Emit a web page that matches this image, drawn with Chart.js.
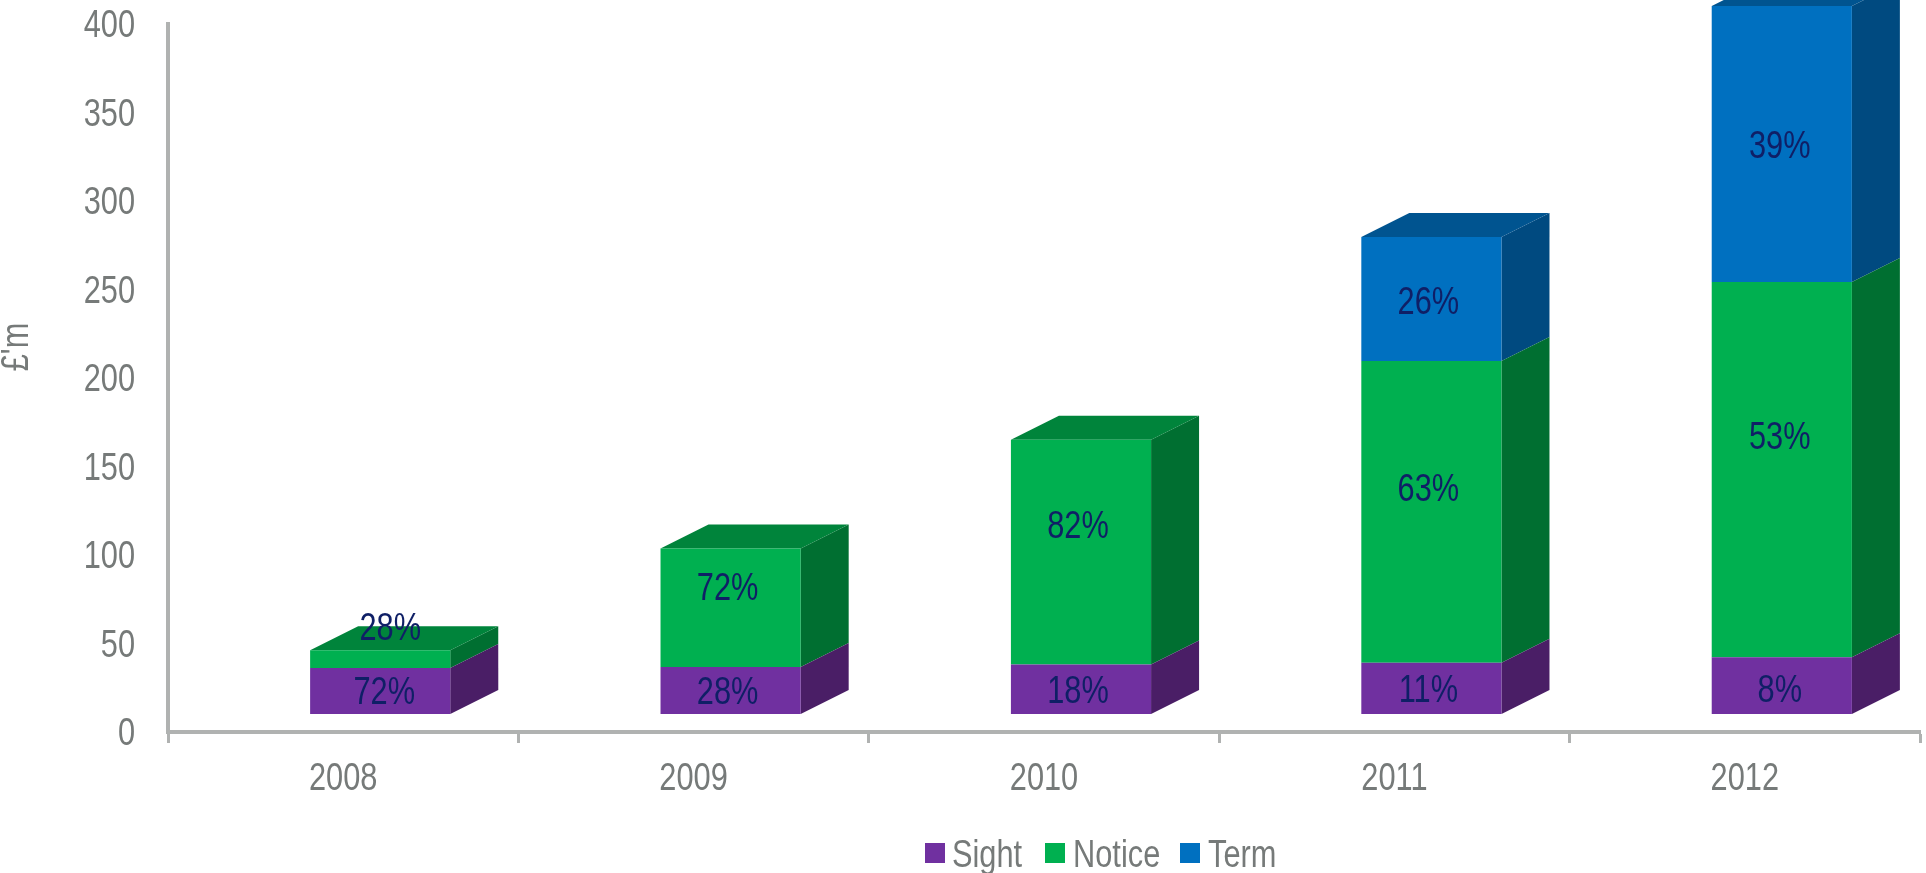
<!DOCTYPE html>
<html lang="en">
<head>
<meta charset="UTF-8">
<title>Deposits by type</title>
<script src="https://cdn.jsdelivr.net/npm/chart.js"></script>
<style>
    html, body { margin: 0; padding: 0; background: #fff; }
    canvas { display: block; }
</style>
</head>
<body>
<canvas id="depositChart" width="1926" height="873"></canvas>
<script>
    // data
    const years = ['2008', '2009', '2010', '2011', '2012'];
    const yTicks = [0, 50, 100, 150, 200, 250, 300, 350, 400];
    const sight = [26, 26.5, 28, 29, 32];
    const notice = [10, 67, 127, 170.5, 212];
    const term = [0, 0, 0, 70, 156];
    const sightPct = ['72%', '28%', '18%', '11%', '8%'];
    const noticePct = ['28%', '72%', '82%', '63%', '53%'];
    const termPct = ['', '', '', '26%', '39%'];
    const seriesNames = ['Sight', 'Notice', 'Term'];
    const yTitle = "£'m";

    const FONT = '"Liberation Sans", sans-serif';
    const FONT_SIZE = 38;
    const SQUEEZE = 0.81;  // source text is stretched narrow
    const GREY = '#767a79';
    const AXIS = '#b0b2b1';
    const LABEL = '#0f1f66';

    // fake 3D look
    const SHIFT_X = 37, SHIFT_Y = -18;  // front face sits off the axis
    const DEPTH_X = 48, DEPTH_Y = -24;
    const faces = [
        { front: '#7030a0', side: '#4a1e66', top: '#5a2680' },
        { front: '#00b050', side: '#006f31', top: '#00843b' },
        { front: '#0070c0', side: '#004a80', top: '#005490' }
    ];
    const pctLabels = [sightPct, noticePct, termPct];
    // label nudges (px) for the notice labels, they are not centred in the source
    const labelNudgeY = [
        [3, 3, 3, 3, 6],
        [-30, -18, -25, -21, -31],
        [0, 0, 0, 5, 3]
    ];
    const labelNudgeX = [
        [4, -3, -3, -3, -2],
        [10, -3, -3, -3, -2],
        [0, 0, 0, -3, -2]
    ];
    const legendX = [925, 1045, 1180];
    const legendText = [952, 1073, 1208];

    function poly(ctx, pts, color) {
        ctx.fillStyle = color;
        ctx.beginPath();
        pts.forEach((p, i) => i ? ctx.lineTo(p[0], p[1]) : ctx.moveTo(p[0], p[1]));
        ctx.closePath();
        ctx.fill();
    }

    const box3d = {
        id: 'box3d',
        beforeDatasetDraw(chart, args) {
            const ctx = chart.ctx;
            ctx.save();
            ctx.translate(SHIFT_X, SHIFT_Y);
            const stacks = chart.data.datasets;
            args.meta.data.forEach((bar, i) => {
                if (!stacks[args.index].data[i]) return;
                const right = bar.x + bar.width / 2;
                const left = bar.x - bar.width / 2;
                const c = faces[args.index];
                poly(ctx, [[right, bar.base], [right + DEPTH_X, bar.base + DEPTH_Y],
                    [right + DEPTH_X, bar.y + DEPTH_Y], [right, bar.y]], c.side);
                const isTop = !stacks.slice(args.index + 1).some(d => d.data[i] > 0);
                if (isTop) {
                    poly(ctx, [[left, bar.y], [right, bar.y],
                        [right + DEPTH_X, bar.y + DEPTH_Y], [left + DEPTH_X, bar.y + DEPTH_Y]], c.top);
                }
            });
        },
        afterDatasetDraw(chart) {
            chart.ctx.restore();
        },
        afterDatasetsDraw(chart) {
            const ctx = chart.ctx;
            ctx.save();
            ctx.font = FONT_SIZE + 'px ' + FONT;
            ctx.textAlign = 'center';
            ctx.textBaseline = 'middle';
            ctx.fillStyle = LABEL;
            chart.data.datasets.forEach((ds, d) => {
                chart.getDatasetMeta(d).data.forEach((bar, i) => {
                    if (!pctLabels[d][i]) return;
                    ctx.fillText(pctLabels[d][i],
                        bar.x + SHIFT_X + labelNudgeX[d][i],
                        (bar.y + bar.base) / 2 + SHIFT_Y + labelNudgeY[d][i]);
                });
            });

            // y title
            ctx.fillStyle = GREY;
            ctx.save();
            ctx.translate(18, 347);
            ctx.rotate(-Math.PI / 2);
            ctx.fillText(yTitle, 0, 0);
            ctx.restore();

            // legend
            ctx.textAlign = 'left';
            seriesNames.forEach((name, i) => {
                ctx.fillStyle = faces[i].front;
                ctx.fillRect(legendX[i], 843, 20, 20);
                ctx.fillStyle = GREY;
                ctx.fillText(name, legendText[i], 857);
            });
            ctx.restore();
        }
    };

    const ctx = document.getElementById('depositChart').getContext('2d');

    // no narrow font installed, so squeeze every text draw sideways
    const plainFillText = ctx.fillText.bind(ctx);
    ctx.fillText = function (text, x, y, maxWidth) {
        ctx.save();
        ctx.translate(x, y);
        ctx.scale(SQUEEZE, 1);
        plainFillText(text, 0, 0, maxWidth);
        ctx.restore();
    };

    new Chart(ctx, {
        type: 'bar',
        data: {
            labels: years,
            datasets: [
                { label: seriesNames[0], data: sight, backgroundColor: faces[0].front, clip: false },
                { label: seriesNames[1], data: notice, backgroundColor: faces[1].front, clip: false },
                { label: seriesNames[2], data: term, backgroundColor: faces[2].front, clip: false }
            ]
        },
        plugins: [box3d],
        options: {
            responsive: false,
            animation: false,
            layout: { padding: { top: 24, right: 6, bottom: 0, left: 0 } },
            datasets: { bar: { categoryPercentage: 1, barPercentage: 0.4 } },
            plugins: { legend: { display: false }, tooltip: { enabled: false } },
            scales: {
                x: {
                    stacked: true,
                    afterFit(scale) { scale.height = 141; scale.paddingLeft = 0; scale.paddingRight = 0; },
                    border: { color: AXIS, width: 4 },
                    grid: { drawOnChartArea: false, color: AXIS, tickColor: AXIS, tickLength: 11, tickWidth: 3 },
                    ticks: { color: GREY, font: { family: FONT, size: FONT_SIZE }, padding: 14, maxRotation: 0 }
                },
                y: {
                    stacked: true,
                    min: 0,
                    max: 400,
                    afterFit(scale) { scale.width = 168; scale.paddingTop = 0; scale.paddingBottom = 0; },
                    afterBuildTicks(scale) { scale.ticks = yTicks.map(v => ({ value: v })); },
                    border: { color: AXIS, width: 4 },
                    grid: { display: false, drawTicks: false },
                    ticks: { color: GREY, font: { family: FONT, size: FONT_SIZE }, padding: 33, labelOffset: 3 }
                }
            }
        }
    });
</script>
</body>
</html>
